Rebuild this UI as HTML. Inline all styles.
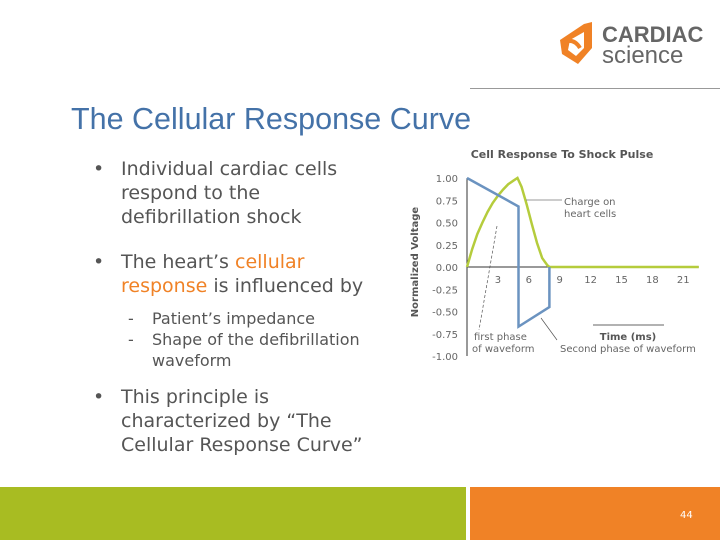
<!DOCTYPE html>
<html><head><meta charset="utf-8"><style>
body{margin:0;width:720px;height:540px;position:relative;background:#fff;font-family:"DejaVu Sans","Liberation Sans",sans-serif;overflow:hidden}
.abs{position:absolute}
.b{font-size:19px;color:#555;line-height:24px}
.o{color:#f08226}
.s{font-size:16px;color:#555;line-height:21px}
</style></head><body>
<div class="abs" style="left:556px;top:18px;width:150px;height:55px">
<svg width="150" height="55"><path d="M4 22 L28 6 L36 4 L36 30 L22 46 L6 36 Z" fill="#f08226"/><path d="M14 22 L28 14 L28 30 L20 38 L12 32 Z" fill="#fff"/><path d="M8 24 Q18 20 24 30" stroke="#f08226" stroke-width="4" fill="none"/></svg>
<div class="abs" style="left:46px;top:4px;font-family:'Liberation Sans';font-weight:bold;font-size:22px;color:#666">CARDIAC</div>
<div class="abs" style="left:46px;top:24px;font-family:'Liberation Sans';font-size:24px;color:#666">science</div>
</div>
<div class="abs" style="left:470px;top:88px;width:250px;height:1px;background:#999"></div>
<div class="abs" style="left:71px;top:102px;font-family:'Liberation Sans';font-size:30.5px;color:#4472a8">The Cellular Response Curve</div>
<div class="abs b" style="left:93px;top:157px">•</div>
<div class="abs b" style="left:121px;top:157px">Individual cardiac cells<br>respond to the<br>defibrillation shock</div>
<div class="abs b" style="left:93px;top:250px">•</div>
<div class="abs b" style="left:121px;top:250px">The heart’s <span class="o">cellular<br>response</span> is influenced by</div>
<div class="abs s" style="left:128px;top:308px">-<br>-</div>
<div class="abs s" style="left:152px;top:308px">Patient’s impedance<br>Shape of the defibrillation<br>waveform</div>
<div class="abs b" style="left:93px;top:385px">•</div>
<div class="abs b" style="left:121px;top:385px">This principle is<br>characterized by “The<br>Cellular Response Curve”</div>
<svg class="abs" style="left:0;top:0" width="720" height="540" id="ch"></svg>
<div class="abs" style="left:0;top:487px;width:466px;height:53px;background:#a8bc22"></div>
<div class="abs" style="left:470px;top:487px;width:250px;height:53px;background:#f08226"></div>
<div class="abs" style="left:680px;top:510px;font-size:10px;color:#fff">44</div>
<script>
const xTicks=[3,6,9,12,15,18,21];
const yTicks=[1,0.75,0.5,0.25,0,-0.25,-0.5,-0.75,-1];
const pulseT=[0,5,5,8,8];
const pulseV=[1,0.68,-0.67,-0.45,0];
const chargeT=[0,0.5,1,1.5,2,2.5,3,3.5,4,4.5,4.9,5.3,5.8,6.3,6.8,7.3,7.8,8,12,16,20,22.5];
const chargeV=[0,0.2,0.37,0.5,0.62,0.72,0.8,0.87,0.93,0.97,1,0.9,0.7,0.48,0.27,0.1,0.02,0,0,0,0,0];
const X=t=>467+t*10.3, Y=v=>267-v*89;
const s=document.getElementById('ch'),NS='http://www.w3.org/2000/svg';
function el(tag,a,txt){const e=document.createElementNS(NS,tag);for(const k in a)e.setAttribute(k,a[k]);if(txt!==undefined)e.textContent=txt;s.appendChild(e);return e;}
let e;
e=el('text',{x:562,y:158,'text-anchor':'middle','font-size':11,'font-weight':'bold',fill:'#555','font-family':'DejaVu Sans'},'Cell Response To Shock Pulse');

e=el('text',{x:0,y:0,transform:'translate(418,262) rotate(-90)','text-anchor':'middle','font-size':10,'font-weight':'bold',fill:'#555','font-family':'DejaVu Sans'},'Normalized Voltage');

yTicks.forEach(v=>{e=el('text',{x:458,y:Y(v)+4,'text-anchor':'end','font-size':10,fill:'#666','font-family':'DejaVu Sans'},v.toFixed(2));
});
xTicks.forEach(t=>{e=el('text',{x:X(t),y:Y(0)+16,'text-anchor':'middle','font-size':10,fill:'#666','font-family':'DejaVu Sans'},t);
});
e=el('line',{x1:X(0),y1:Y(1),x2:X(0),y2:Y(-1),stroke:'#333','stroke-width':1});

e=el('line',{x1:X(0),y1:Y(0),x2:X(22.5),y2:Y(0),stroke:'#333','stroke-width':1});

e=el('polyline',{points:chargeT.map((t,i)=>X(t)+','+Y(chargeV[i])).join(' '),fill:'none',stroke:'#b5cc3c','stroke-width':2.5});

e=el('polyline',{points:pulseT.map((t,i)=>X(t)+','+Y(pulseV[i])).join(' '),fill:'none',stroke:'#6b93c0','stroke-width':2.5});

e=el('line',{x1:497,y1:226,x2:479,y2:330,stroke:'#555','stroke-width':0.7,'stroke-dasharray':'3,2'});

e=el('line',{x1:526,y1:200,x2:562,y2:200,stroke:'#777','stroke-width':0.7});

e=el('line',{x1:541,y1:318,x2:557,y2:340,stroke:'#555','stroke-width':0.7});

e=el('line',{x1:593,y1:325,x2:664,y2:325,stroke:'#333','stroke-width':0.8});

const lab=[[564,205,'Charge on','start'],[564,217,'heart cells','start'],[474,340,'first phase','start'],[472,352,'of waveform','start'],[560,352,'Second phase of waveform','start']];
lab.forEach(l=>{e=el('text',{x:l[0],y:l[1],'font-size':10,fill:'#666','text-anchor':l[3],'font-family':'DejaVu Sans'},l[2]);
});
e=el('text',{x:628,y:340,'text-anchor':'middle','font-size':10,'font-weight':'bold',fill:'#555','font-family':'DejaVu Sans'},'Time (ms)');

</script>
</body></html>
